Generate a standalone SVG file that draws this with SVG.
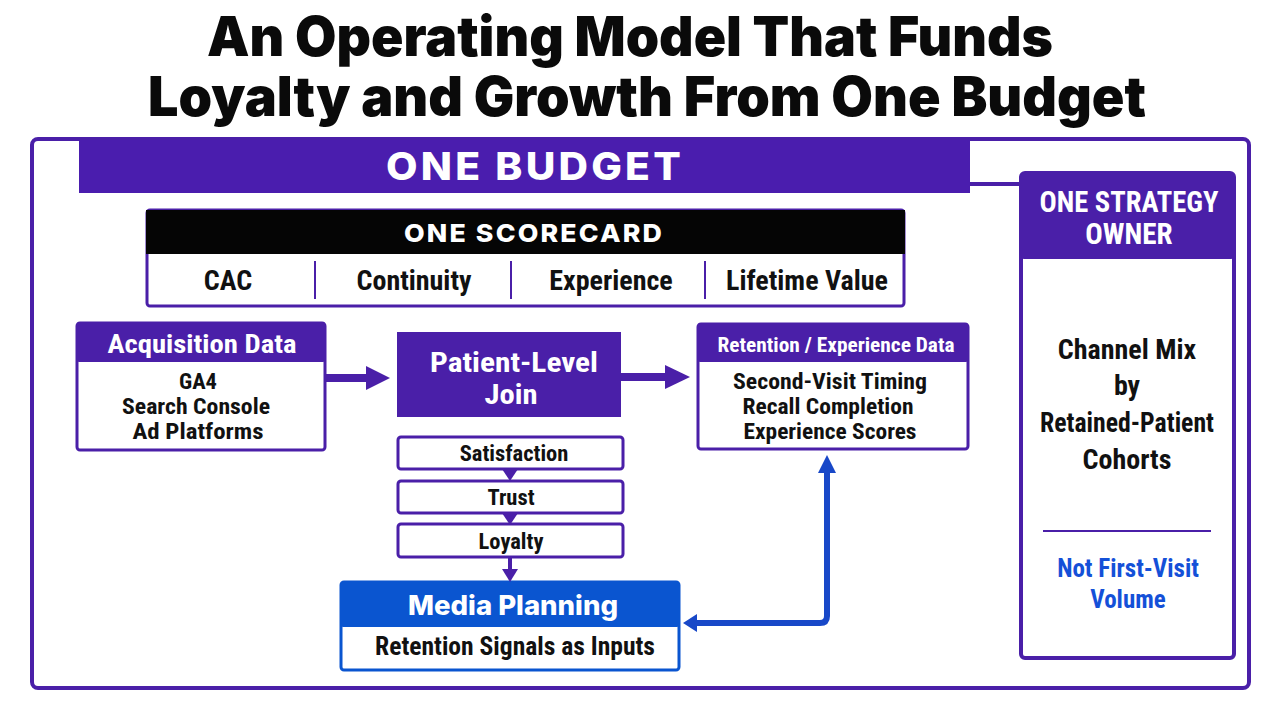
<svg xmlns="http://www.w3.org/2000/svg" width="1280" height="720" viewBox="0 0 1280 720">
<defs>
<style>
.title{font-family:Inter,"Liberation Sans",sans-serif;font-weight:900;font-size:55px;fill:#0a0a0a;text-anchor:middle}
.wide{font-family:Inter,"Liberation Sans",sans-serif;font-weight:800;text-anchor:middle}
.cond{font-family:"Liberation Sans Narrow","Roboto Condensed","Liberation Sans",sans-serif;font-weight:700;text-anchor:middle}
.wt{fill:#ffffff}
.bk{fill:#111111}
.pbox{fill:#ffffff;stroke:#4a1fa8;stroke-width:3}
.pfill{fill:#4a1fa8}
.conn{fill:none;stroke:#4a1fa8;stroke-width:8}
.bconn{fill:none;stroke:#1848c8;stroke-width:6;stroke-linejoin:round}
</style>
</defs>
<rect width="1280" height="720" fill="#ffffff"/>

<g id="title">
<text class="title" x="630" y="56" textLength="846" lengthAdjust="spacingAndGlyphs">An Operating Model That Funds</text>
<text class="title" x="647" y="116" textLength="998" lengthAdjust="spacingAndGlyphs">Loyalty and Growth From One Budget</text>
</g>

<g id="frame">
<rect x="32" y="139" width="1217" height="549" rx="6" fill="none" stroke="#4a1fa8" stroke-width="4"/>
</g>

<g id="one-budget">
<rect x="79" y="140" width="891" height="53" fill="#4a1dae"/>
<text class="wide wt" x="535" y="180" font-size="38" letter-spacing="3" textLength="298" lengthAdjust="spacingAndGlyphs">ONE BUDGET</text>
</g>

<g id="strategy-owner">
<rect x="1021" y="173" width="213" height="485" rx="4" fill="#ffffff" stroke="#4a1fa8" stroke-width="4"/>
<rect x="1021" y="173" width="213" height="86" rx="3" fill="#4a1fa8"/>
<text class="cond wt" x="1129" y="212" font-size="29" textLength="179" lengthAdjust="spacingAndGlyphs">ONE STRATEGY</text>
<text class="cond wt" x="1129" y="244" font-size="29">OWNER</text>
<text class="cond bk" x="1127" y="359" font-size="28">Channel Mix</text>
<text class="cond bk" x="1127" y="395" font-size="28">by</text>
<text class="cond bk" x="1127" y="432" font-size="28" textLength="174" lengthAdjust="spacingAndGlyphs">Retained-Patient</text>
<text class="cond bk" x="1127" y="469" font-size="28">Cohorts</text>
<line x1="1043" y1="531" x2="1211" y2="531" stroke="#4a1fa8" stroke-width="2"/>
<text class="cond" x="1128" y="577" font-size="25" fill="#1450d8">Not First-Visit</text>
<text class="cond" x="1128" y="608" font-size="25" fill="#1450d8">Volume</text>
</g>

<g id="scorecard">
<rect x="147" y="210" width="757" height="96" rx="3" class="pbox"/>
<rect x="146" y="210" width="759" height="44" fill="#050505"/>
<text class="wide wt" x="534" y="242" font-size="25" letter-spacing="2" textLength="260" lengthAdjust="spacingAndGlyphs">ONE SCORECARD</text>
<g stroke="#4a1fa8" stroke-width="2">
<line x1="315" y1="261" x2="315" y2="299"/>
<line x1="511" y1="261" x2="511" y2="299"/>
<line x1="705" y1="261" x2="705" y2="299"/>
</g>
<text class="cond bk" x="228" y="290" font-size="28">CAC</text>
<text class="cond bk" x="414" y="290" font-size="28">Continuity</text>
<text class="cond bk" x="611" y="290" font-size="28">Experience</text>
<text class="cond bk" x="807" y="290" font-size="28">Lifetime Value</text>
</g>

<g id="acquisition-data">
<rect x="77" y="323" width="248" height="127" rx="3" class="pbox"/>
<rect x="77" y="322" width="248" height="40" rx="2" class="pfill"/>
<text class="cond wt" x="202" y="353" font-size="25" textLength="189" lengthAdjust="spacingAndGlyphs">Acquisition Data</text>
<text class="cond bk" x="198" y="389" font-size="22.5">GA4</text>
<text class="cond bk" x="196" y="414" font-size="21.5" textLength="148" lengthAdjust="spacingAndGlyphs">Search Console</text>
<text class="cond bk" x="198" y="439" font-size="21.5" textLength="131" lengthAdjust="spacingAndGlyphs">Ad Platforms</text>
</g>

<g id="patient-level-join">
<rect x="397" y="332" width="224" height="85" class="pfill"/>
<text class="cond wt" x="514" y="372" font-size="27.5" textLength="168" lengthAdjust="spacingAndGlyphs">Patient-Level</text>
<text class="cond wt" x="511" y="404" font-size="27.5" textLength="53" lengthAdjust="spacingAndGlyphs">Join</text>
</g>

<g id="retention-data">
<rect x="698" y="324" width="270" height="125" rx="3" class="pbox"/>
<rect x="698" y="323" width="270" height="39" rx="2" class="pfill"/>
<text class="cond wt" x="836" y="352" font-size="21" textLength="237" lengthAdjust="spacingAndGlyphs">Retention / Experience Data</text>
<text class="cond bk" x="830" y="389" font-size="21.5" textLength="194" lengthAdjust="spacingAndGlyphs">Second-Visit Timing</text>
<text class="cond bk" x="828" y="414" font-size="21.5" textLength="171" lengthAdjust="spacingAndGlyphs">Recall Completion</text>
<text class="cond bk" x="830" y="439" font-size="21.5" textLength="173" lengthAdjust="spacingAndGlyphs">Experience Scores</text>
</g>

<g id="satisfaction">
<rect x="398" y="437" width="225" height="32" rx="3" class="pbox"/>
<text class="cond bk" x="514" y="461" font-size="22.5">Satisfaction</text>
</g>
<g id="trust">
<rect x="398" y="481" width="225" height="32" rx="3" class="pbox"/>
<text class="cond bk" x="511" y="505" font-size="22.5">Trust</text>
</g>
<g id="loyalty">
<rect x="398" y="524" width="225" height="33" rx="3" class="pbox"/>
<text class="cond bk" x="511" y="549" font-size="22.5">Loyalty</text>
</g>

<g id="media-planning">
<rect x="341" y="582" width="338" height="88" rx="3" fill="#ffffff" stroke="#0a55d0" stroke-width="3"/>
<rect x="341" y="582" width="338" height="45" rx="2" fill="#0a55d0"/>
<text class="wide wt" x="513" y="615" font-size="27" textLength="210" lengthAdjust="spacingAndGlyphs">Media Planning</text>
<text class="cond bk" x="515" y="655" font-size="25" textLength="280" lengthAdjust="spacingAndGlyphs">Retention Signals as Inputs</text>
</g>

<g id="connectors">
<line x1="970" y1="184" x2="1021" y2="184" stroke="#4a1fa8" stroke-width="4"/>
<path d="M325,378 H368" class="conn"/>
<path d="M366,366 L390,378 L366,390 Z" fill="#4a1fa8"/>
<path d="M621,377 H666" class="conn"/>
<path d="M665,365 L690,377 L665,389 Z" fill="#4a1fa8"/>
<path d="M502,469 L518,469 L510,481 Z" fill="#4a1fa8"/>
<path d="M502,513 L518,513 L510,525 Z" fill="#4a1fa8"/>
<path d="M510,557 V570" stroke="#4a1fa8" stroke-width="4" fill="none"/>
<path d="M502,569 L518,569 L510,582 Z" fill="#4a1fa8"/>
<path d="M695,623 H820 Q827,623 827,616 V470" class="bconn"/>
<path d="M683,623 L697,614 L697,632 Z" fill="#1848c8"/>
<path d="M827,455 L836,473 L818,473 Z" fill="#1848c8"/>
</g>
</svg>
